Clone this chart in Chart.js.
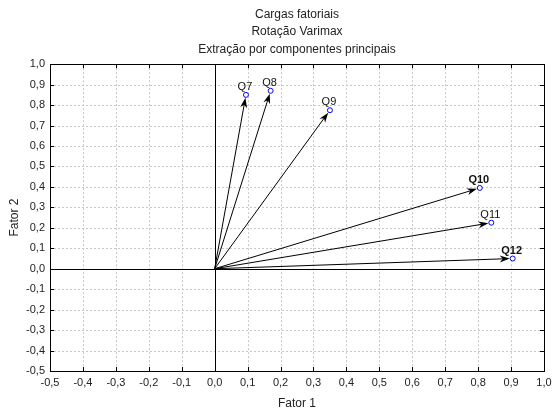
<!DOCTYPE html>
<html>
<head>
<meta charset="utf-8">
<script src="https://cdn.jsdelivr.net/npm/chart.js@4"></script>
<style>
html, body { margin: 0; padding: 0; background: #fff; }
#wrap { width: 553px; height: 409px; }
</style>
</head>
<body>
<div id="wrap"><canvas id="c" width="553" height="409"></canvas></div>
<script>
// Factor loadings (Varimax rotation)
const variables = ['Q7', 'Q8', 'Q9', 'Q10', 'Q11', 'Q12'];
const fator1 = [0.095, 0.17, 0.35, 0.805, 0.84, 0.905];
const fator2 = [0.85, 0.87, 0.775, 0.395, 0.225, 0.05];
const boldLabels = ['Q10', 'Q12'];

// Axis ranges and tick step
const axisMin = -0.5;
const axisMax = 1.0;
const tickStep = 0.1;
const titleLines = ['Cargas fatoriais', 'Rotação Varimax', 'Extração por componentes principais'];

const fmt = v => (Math.round(v * 10) / 10).toFixed(1).replace('.', ',');

function tickList() {
  const out = [];
  for (let i = 0; ; i++) {
    const v = Math.round((axisMin + i * tickStep) * 10) / 10;
    if (v > axisMax + 1e-9) break;
    out.push(v);
  }
  return out;
}

const crisp = v => Math.round(v) + 0.5;

const framePlugin = {
  id: 'frame',
  beforeDatasetsDraw(chart) {
    const { ctx, chartArea: a, scales: { x, y } } = chart;
    const ticks = tickList();
    ctx.save();
    // dashed grid
    ctx.strokeStyle = '#c8c8c8';
    ctx.lineWidth = 1;
    ctx.setLineDash([2, 2]);
    ctx.beginPath();
    ticks.forEach(v => {
      const px = crisp(x.getPixelForValue(v));
      ctx.moveTo(px, a.top); ctx.lineTo(px, a.bottom);
      const py = crisp(y.getPixelForValue(v));
      ctx.moveTo(a.left, py); ctx.lineTo(a.right, py);
    });
    ctx.stroke();
    ctx.setLineDash([]);
    // zero lines
    ctx.strokeStyle = '#000';
    ctx.beginPath();
    const x0 = crisp(x.getPixelForValue(0));
    const y0 = crisp(y.getPixelForValue(0));
    ctx.moveTo(x0, a.top); ctx.lineTo(x0, a.bottom);
    ctx.moveTo(a.left, y0); ctx.lineTo(a.right, y0);
    ctx.stroke();
    // frame
    ctx.strokeStyle = '#000';
    ctx.strokeRect(crisp(a.left), crisp(a.top), Math.round(a.right - a.left), Math.round(a.bottom - a.top));
    // inward tick marks
    const tl = 4;
    ctx.beginPath();
    ticks.forEach(v => {
      const px = crisp(x.getPixelForValue(v));
      ctx.moveTo(px, a.top); ctx.lineTo(px, a.top + tl);
      ctx.moveTo(px, a.bottom); ctx.lineTo(px, a.bottom - tl);
      const py = crisp(y.getPixelForValue(v));
      ctx.moveTo(a.left, py); ctx.lineTo(a.left + tl, py);
      ctx.moveTo(a.right, py); ctx.lineTo(a.right - tl, py);
    });
    ctx.stroke();
    // arrows from origin to each loading
    const ox = x.getPixelForValue(0), oy = y.getPixelForValue(0);
    ctx.fillStyle = '#000';
    fator1.forEach((fx, i) => {
      const px = x.getPixelForValue(fx), py = y.getPixelForValue(fator2[i]);
      const dx = px - ox, dy = py - oy;
      const len = Math.hypot(dx, dy);
      const ux = dx / len, uy = dy / len;
      const tx = px - ux * 3, ty = py - uy * 3;
      const hl = 10, hw = 3.5;
      ctx.beginPath();
      ctx.moveTo(ox, oy);
      ctx.lineTo(tx - ux * 6, ty - uy * 6);
      ctx.stroke();
      const bx = tx - ux * hl, by = ty - uy * hl;
      ctx.beginPath();
      ctx.moveTo(tx, ty);
      ctx.lineTo(bx - uy * hw, by + ux * hw);
      ctx.lineTo(tx - ux * hl * 0.7, ty - uy * hl * 0.7);
      ctx.lineTo(bx + uy * hw, by - ux * hw);
      ctx.closePath();
      ctx.fill();
    });
    ctx.restore();
  },
  afterDatasetsDraw(chart) {
    const { ctx, scales: { x, y } } = chart;
    ctx.save();
    ctx.fillStyle = '#111';
    ctx.textAlign = 'center';
    ctx.textBaseline = 'alphabetic';
    variables.forEach((name, i) => {
      const px = x.getPixelForValue(fator1[i]);
      const py = y.getPixelForValue(fator2[i]);
      ctx.font = (boldLabels.includes(name) ? 'bold ' : '') + '11px Arial, "Liberation Sans", sans-serif';
      ctx.fillText(name, px - 1, py - 5);
    });
    ctx.restore();
  }
};

new Chart(document.getElementById('c'), {
  type: 'scatter',
  data: {
    datasets: [{
      data: fator1.map((v, i) => ({ x: v, y: fator2[i] })),
      pointRadius: 2.5,
      pointHoverRadius: 2.5,
      pointBorderColor: '#0000ff',
      pointBackgroundColor: '#ffffff',
      pointBorderWidth: 1
    }]
  },
  options: {
    responsive: false,
    animation: false,
    devicePixelRatio: 1,
    layout: { padding: { left: 1, right: 9, top: 0, bottom: 0 } },
    plugins: {
      legend: { display: false },
      tooltip: { enabled: false },
      title: {
        display: true,
        fullSize: false,
        text: titleLines,
        color: '#222',
        font: { family: 'Arial, "Liberation Sans", sans-serif', size: 12, weight: 'normal', lineHeight: 1.45 },
        padding: { top: 6, bottom: 6 }
      }
    },
    scales: {
      x: {
        type: 'linear',
        min: axisMin,
        max: axisMax,
        grid: { display: false, drawTicks: false },
        border: { display: false },
        afterBuildTicks: s => { s.ticks = tickList().map(v => ({ value: v })); },
        afterFit: s => { s.height = 38; s.paddingLeft = 0; s.paddingRight = 0; },
        ticks: {
          padding: 5,
          color: '#222',
          maxRotation: 0,
          autoSkip: false,
          font: { family: 'Arial, "Liberation Sans", sans-serif', size: 11 },
          callback: v => fmt(v)
        },
        title: {
          display: true,
          text: 'Fator 1',
          color: '#222',
          font: { family: 'Arial, "Liberation Sans", sans-serif', size: 12 },
          padding: { top: 0, bottom: -2 }
        }
      },
      y: {
        type: 'linear',
        min: axisMin,
        max: axisMax,
        grid: { display: false, drawTicks: false },
        border: { display: false },
        afterBuildTicks: s => { s.ticks = tickList().map(v => ({ value: v })); },
        afterFit: s => { s.width = 49; s.paddingTop = 0; s.paddingBottom = 0; },
        ticks: {
          padding: 5,
          color: '#222',
          autoSkip: false,
          font: { family: 'Arial, "Liberation Sans", sans-serif', size: 11 },
          callback: v => fmt(v)
        },
        title: {
          display: true,
          text: 'Fator 2',
          color: '#222',
          font: { family: 'Arial, "Liberation Sans", sans-serif', size: 12 },
          padding: { top: 6, bottom: 0 }
        }
      }
    }
  },
  plugins: [framePlugin]
});
</script>
</body>
</html>
